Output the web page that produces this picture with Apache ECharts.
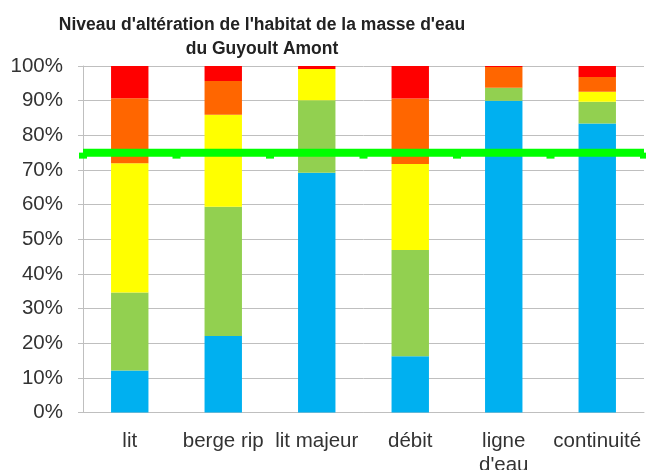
<!DOCTYPE html>
<html>
<head>
<meta charset="utf-8">
<script src="https://cdn.jsdelivr.net/npm/echarts@6/dist/echarts.min.js"></script>
<style>
  html, body { margin: 0; padding: 0; background: #fff; }
  #chart { width: 646px; height: 470px; }
</style>
</head>
<body>
<div id="chart"></div>
<script>
// Compartiments de l'habitat
const categories = ['lit', 'berge rip', 'lit majeur', 'débit', "ligne d'eau", 'continuité'];

// Part de chaque niveau d'altération (%), de bas en haut de la pile
const niveauTresFaible = [12.1, 22.1, 69.2, 16.2, 90.0, 83.4];
const niveauFaible     = [22.5, 37.3, 20.9, 30.7, 3.7, 6.3];
const niveauMoyen      = [37.3, 26.5, 9.0, 24.8, 0, 2.9];
const niveauFort       = [18.8, 9.8, 0, 18.9, 6.0, 4.2];
const niveauTresFort   = [9.3, 4.3, 0.9, 9.4, 0.3, 3.2];

// Seuil de référence (%)
const seuil = 75;

const yTicks = { min: 0, max: 100, interval: 10 };

const couleurs = ['#00B0F0', '#92D050', '#FFFF00', '#FF6600', '#FF0000'];
const piles = [niveauTresFaible, niveauFaible, niveauMoyen, niveauFort, niveauTresFort];

const barSeries = piles.map((vals, i) => ({
  type: 'bar',
  stack: 'total',
  barWidth: '40%',
  data: vals,
  itemStyle: { color: couleurs[i] },
  silent: true,
  z: 2
}));

const seuilData = [];
for (let k = 0; k <= categories.length; k++) seuilData.push([k, seuil]);

const chart = echarts.init(document.getElementById('chart'), null, { renderer: 'canvas' });
chart.setOption({
  animation: false,
  backgroundColor: '#ffffff',
  title: {
    text: "Niveau d'altération de l'habitat de la masse d'eau\ndu Guyoult Amont",
    left: 257,
    top: 8,
    textAlign: 'center',
    textStyle: {
      fontFamily: 'Liberation Sans, Arial, sans-serif',
      fontSize: 17.5,
      fontWeight: 'bold',
      color: '#222',
      lineHeight: 24
    }
  },
  grid: {
    left: 83, right: 2, top: 66, bottom: 57.5,
    containLabel: false,
    outerBoundsMode: 'none'
  },
  xAxis: [{
    type: 'category',
    data: categories,
    axisLine: { show: true, lineStyle: { color: '#BFBFBF', width: 1 } },
    axisTick: { show: false },
    axisLabel: {
      interval: 0,
      margin: 17,
      fontFamily: 'Liberation Sans, Arial, sans-serif',
      fontSize: 20.5,
      color: '#333',
      lineHeight: 24,
      hideOverlap: false,
      formatter: v => v.length > 10 ? v.replace(' ', '\n') : v
    }
  }, {
    type: 'value',
    min: 0,
    max: categories.length,
    show: false
  }],
  yAxis: {
    type: 'value',
    min: yTicks.min,
    max: yTicks.max,
    interval: yTicks.interval,
    axisLine: { show: true, lineStyle: { color: '#BFBFBF', width: 1 } },
    axisTick: { show: true, length: 5, lineStyle: { color: '#BFBFBF' } },
    splitLine: { show: true, lineStyle: { color: '#BFBFBF', width: 1 } },
    axisLabel: {
      margin: 20,
      fontFamily: 'Liberation Sans, Arial, sans-serif',
      fontSize: 20.5,
      color: '#333',
      formatter: '{value}%'
    }
  },
  series: barSeries.concat([{
    type: 'line',
    xAxisIndex: 1,
    data: seuilData,
    symbol: 'rect',
    symbolSize: [8, 6],
    symbolOffset: [0, 3],
    showSymbol: true,
    lineStyle: { color: '#00FF00', width: 8 },
    itemStyle: { color: '#00FF00' },
    silent: true,
    z: 5
  }])
});
</script>
</body>
</html>
